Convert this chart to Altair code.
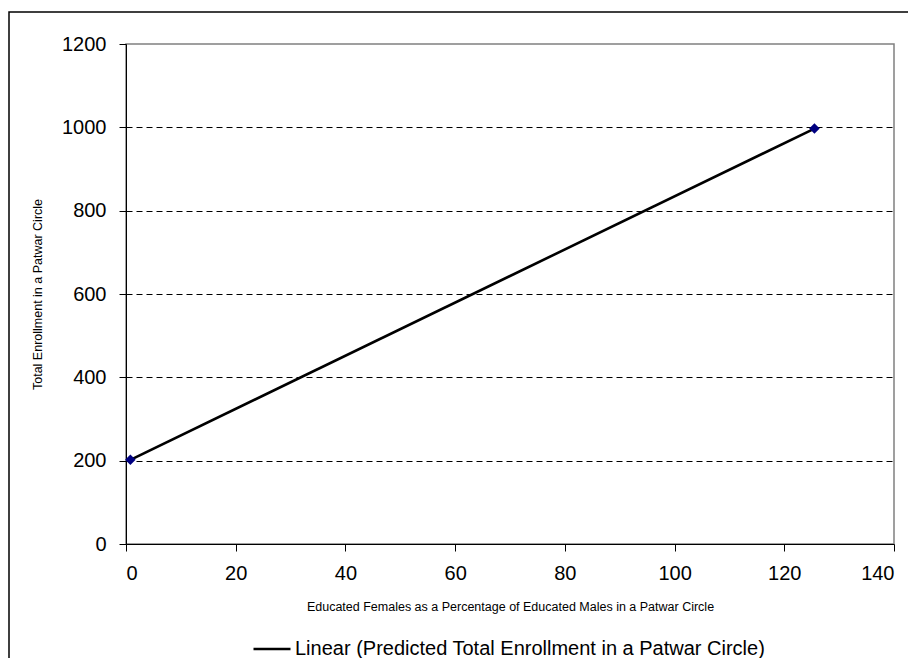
import altair as alt
import pandas as pd

# Data
x_pct = [0.8, 125.5]          # Educated females as % of educated males
y_enroll = [202, 997]         # Total enrollment
series_name = "Linear (Predicted Total Enrollment in a Patwar Circle)"

pts = pd.DataFrame({"x": x_pct, "y": y_enroll})
line_df = pd.DataFrame({"x": x_pct, "y": y_enroll, "s": [series_name] * len(x_pct)})
frame_df = pd.DataFrame({"k": [0]})

FONT = "Liberation Sans"

x_enc = alt.X("x:Q", scale=alt.Scale(domain=[0, 140], nice=False),
              axis=alt.Axis(values=list(range(0, 141, 20)), format="d",
                            title="Educated Females as a Percentage of Educated Males in a Patwar Circle",
                            grid=False, domainColor="black", tickColor="black",
                            tickSize=7, labelPadding=12, labelFontSize=20,
                            labelColor="black", titleFontSize=12.5,
                            titleFontWeight="normal", titleColor="black",
                            titlePadding=17, labelFont=FONT, titleFont=FONT))
y_enc = alt.Y("y:Q", scale=alt.Scale(domain=[0, 1200], nice=False),
              axis=alt.Axis(values=list(range(0, 1201, 200)), format="d",
                            title="Total Enrollment in a Patwar Circle",
                            grid=True, gridColor="black", gridDash=[6, 4],
                            gridWidth=1,
                            gridOpacity=alt.condition(
                                (alt.datum.value == 0) | (alt.datum.value == 1200),
                                alt.value(0), alt.value(1)),
                            domainColor="black", tickColor="black",
                            tickSize=7, labelPadding=13, labelFontSize=20,
                            labelColor="black", titleFontSize=12.5,
                            titleFontWeight="normal", titleColor="black",
                            titlePadding=17, labelFont=FONT, titleFont=FONT))

line = alt.Chart(line_df).mark_line(strokeWidth=2.6).encode(
    x=x_enc, y=y_enc,
    color=alt.Color("s:N", scale=alt.Scale(range=["black"]),
                    legend=alt.Legend(title=None, orient="none", legendX=126,
                                      legendY=585, symbolType="stroke",
                                      symbolSize=1369, symbolStrokeWidth=2.5,
                                      labelFontSize=20, labelFont=FONT,
                                      labelColor="black", labelOffset=3,
                                      padding=0, labelLimit=800)),
)

points = alt.Chart(pts).mark_point(shape="diamond", filled=True, size=110,
                                   color="#000080", opacity=1).encode(x="x:Q", y="y:Q")

frame = alt.Chart(frame_df).mark_rect(fill=None, stroke="black", strokeWidth=1.5).encode(
    x=alt.value(-117), x2=alt.value(1500), y=alt.value(-32), y2=alt.value(1500)
)

chart = alt.layer(frame, line, points).properties(
    width=768, height=500,
    autosize=alt.AutoSizeParams(type="none"),
    padding={"left": 118, "top": 36, "right": 14, "bottom": 114},
    background="white",
).configure_view(stroke="#808080", strokeWidth=1.5)

chart.save("out.html", embed_options={"renderer": "svg", "actions": False})
